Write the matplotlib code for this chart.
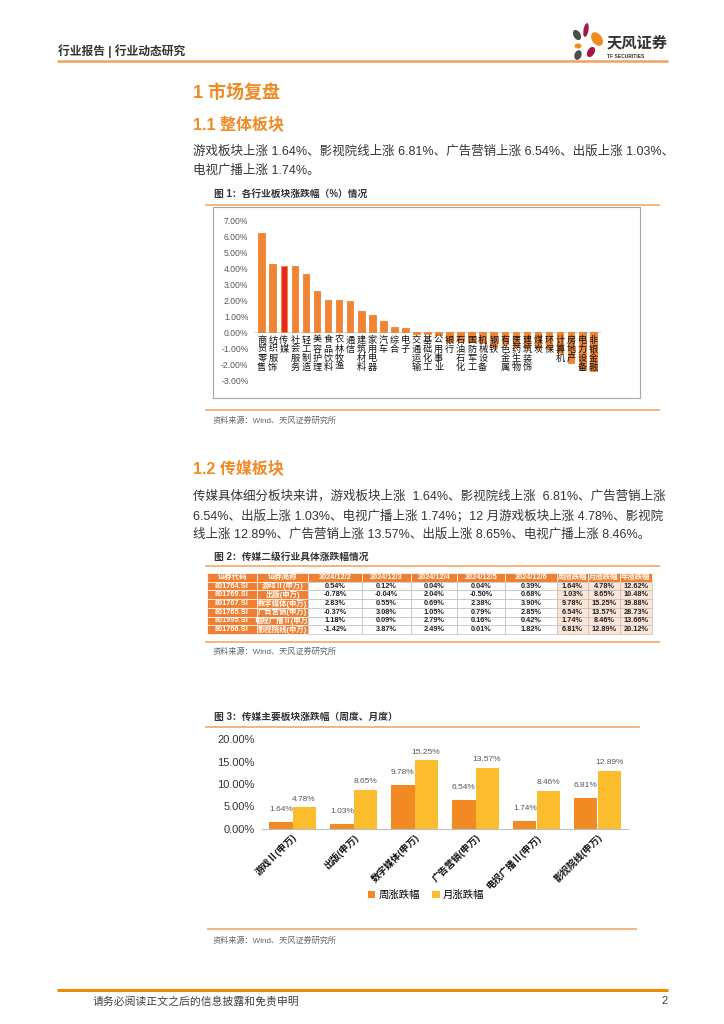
import numpy as np
import matplotlib
matplotlib.use('Agg')
import matplotlib.pyplot as plt
from matplotlib.patches import Rectangle, Ellipse

plt.rcParams['font.family'] = ['Liberation Sans', 'Noto Sans CJK SC']

# ---- chart 1 data: industry changes (%)
industries = ['商贸零售', '纺织服饰', '传媒', '社会服务', '轻工制造', '美容护理', '食品饮料',
              '农林牧渔', '通信', '建筑材料', '家用电器', '汽车', '综合', '电子', '交通运输',
              '基础化工', '公用事业', '银行', '石油石化', '国防军工', '机械设备', '钢铁',
              '有色金属', '医药生物', '建筑装饰', '煤炭', '环保', '计算机', '房地产',
              '电力设备', '非银金融']
ind_change = [6.16, 4.28, 4.11, 4.11, 3.65, 2.56, 2.03, 1.99, 1.93, 1.30, 1.09, 0.67, 0.34,
              0.23, -0.10, -0.11, -0.17, -0.62, -0.58, -0.63, -0.66, -0.92, -0.78, -0.95,
              -0.98, -1.00, -1.02, -1.30, -1.92, -2.40, -2.42]
y1_ticks = [-3, -2, -1, 0, 1, 2, 3, 4, 5, 6, 7]

# ---- table data
tbl_header = ['证券代码', '证券简称', '2024/12/2', '2024/12/3', '2024/12/4', '2024/12/5',
              '2024/12/6', '周涨跌幅', '月涨跌幅', '年涨跌幅']
codes = ['801764.SI', '801769.SI', '801767.SI', '801765.SI', '801995.SI', '801766.SI']
short_names = ['游戏Ⅱ(申万)', '出版(申万)', '数字媒体(申万)', '广告营销(申万)',
               '电视广播Ⅱ(申万)', '影视院线(申万)']
d_1202 = [0.54, -0.78, 2.83, -0.37, 1.18, -1.42]
d_1203 = [0.12, -0.04, 0.55, 3.08, 0.09, 3.87]
d_1204 = [0.04, 2.04, 0.69, 1.05, 2.79, 2.49]
d_1205 = [0.04, -0.50, 2.38, 0.79, 0.16, 0.01]
d_1206 = [0.39, 0.68, 3.90, 2.85, 0.42, 1.82]
week_chg = [1.64, 1.03, 9.78, 6.54, 1.74, 6.81]
month_chg = [4.78, 8.65, 15.25, 13.57, 8.46, 12.89]
year_chg = [12.62, 10.48, 19.88, 28.73, 13.66, 20.12]

# ---- chart 3 data
sectors = short_names
y3_ticks = [0, 5, 10, 15, 20]

W, H = 724, 1024
ORANGE = '#EF8434'
RED = '#E8281E'
YELLOW = '#FBBD2E'
HEAD = '#F08A24'
LINE = '#F3A868'
TXT = '#333333'


def box(l, t, r, b):
    return [l / W, 1 - b / H, (r - l) / W, (b - t) / H]


fig = plt.figure(figsize=(7.24, 10.24), dpi=100)
bg = fig.add_axes([0, 0, 1, 1])
bg.set_xlim(0, W)
bg.set_ylim(H, 0)
bg.axis('off')


def hline(y, x0, x1, color=LINE, lw=1.2):
    bg.plot([x0, x1], [y, y], color=color, lw=lw, solid_capstyle='butt')


# header
bg.text(58, 51, '行业报告 | 行业动态研究', fontsize=8.5, color=TXT, va='center', fontweight='bold')
hline(61, 57, 668, '#F2A05A', 1.8)
# logo
for (cx, cy, w, h, a, c) in [(577, 35, 7, 11, -30, '#4D4D4D'), (586, 30, 5, 14, 10, '#A6193C'),
                              (597, 39, 10, 15, -35, '#F08C1E'), (578, 46, 7, 5, 0, '#F08C1E'),
                              (591, 52, 7, 11, 30, '#A6193C'), (578, 55, 7, 10, 20, '#4D4D4D')]:
    bg.add_patch(Ellipse((cx, cy), w, h, angle=a, color=c, lw=0))
bg.text(607, 43, '天风证券', fontsize=11, color='#333333', va='center', fontweight='bold')
bg.text(607, 56, 'TF SECURITIES', fontsize=3.6, color='#333333', va='center', fontweight='bold')

# section 1
bg.text(193, 93, '1 市场复盘', fontsize=13, color=HEAD, va='center', fontweight='bold')
bg.text(193, 124, '1.1 整体板块', fontsize=11.5, color=HEAD, va='center', fontweight='bold')
bg.text(193, 152, '游戏板块上涨 1.64%、影视院线上涨 6.81%、广告营销上涨 6.54%、出版上涨 1.03%、',
        fontsize=9, color=TXT, va='center')
bg.text(193, 171, '电视广播上涨 1.74%。', fontsize=9, color=TXT, va='center')
bg.text(214, 194, '图 1：各行业板块涨跌幅（%）情况', fontsize=7, color=TXT, va='center', fontweight='bold')
hline(205, 205, 660)
bg.add_patch(Rectangle((213, 207), 427, 191, fill=False, edgecolor='#A6A6A6', lw=0.8))
hline(410, 205, 660)
bg.text(213, 421, '资料来源：Wind、天风证券研究所', fontsize=5.9, color='#666666', va='center')

# section 1.2
bg.text(193, 468, '1.2 传媒板块', fontsize=11.5, color=HEAD, va='center', fontweight='bold')
bg.text(193, 496, '传媒具体细分板块来讲，游戏板块上涨  1.64%、影视院线上涨  6.81%、广告营销上涨',
        fontsize=9, color=TXT, va='center')
bg.text(193, 516, '6.54%、出版上涨 1.03%、电视广播上涨 1.74%；12 月游戏板块上涨 4.78%、影视院',
        fontsize=9, color=TXT, va='center')
bg.text(193, 535, '线上涨 12.89%、广告营销上涨 13.57%、出版上涨 8.65%、电视广播上涨 8.46%。',
        fontsize=9, color=TXT, va='center')
bg.text(214, 557, '图 2：传媒二级行业具体涨跌幅情况', fontsize=7, color=TXT, va='center', fontweight='bold')
hline(566, 205, 660)
hline(642, 205, 660)
bg.text(213, 652, '资料来源：Wind、天风证券研究所', fontsize=5.9, color='#666666', va='center')

bg.text(214, 717, '图 3：传媒主要板块涨跌幅（周度、月度）', fontsize=7, color=TXT, va='center', fontweight='bold')
hline(727, 205, 640)
hline(929, 207, 637)
bg.text(213, 941, '资料来源：Wind、天风证券研究所', fontsize=5.9, color='#666666', va='center')

# footer
hline(990, 57, 668, '#F08A00', 2.2)
bg.text(93, 1001, '请务必阅读正文之后的信息披露和免责申明', fontsize=7.8, color='#404040', va='center')
bg.text(668, 1001, '2', fontsize=8, color='#404040', va='center', ha='right')

# ---- chart 1
ax1 = fig.add_axes(box(254, 220, 601, 380))
ax1.patch.set_alpha(0)
x1 = np.arange(len(industries))
cols = [RED if n == '传媒' else ORANGE for n in industries]
ax1.bar(x1, ind_change, width=0.6, color=cols, edgecolor=ORANGE, linewidth=0.6, zorder=2)
ax1.axhline(0, color='#D9D9D9', lw=0.8, zorder=1)
for i, n in enumerate(industries):
    ax1.text(i, -0.22, '\n'.join(n), ha='center', va='top', fontsize=6.6, linespacing=1.0,
             color='#111111', zorder=3)
ax1.set_xlim(-0.7, len(industries) - 0.3)
ax1.set_ylim(-3, 7)
ax1.set_yticks(y1_ticks)
ax1.set_yticklabels([f'{v:.2f}%' for v in y1_ticks], fontsize=6.2, color='#595959')
ax1.set_xticks([])
ax1.tick_params(length=0, pad=4)
for s in ax1.spines.values():
    s.set_visible(False)

# ---- table
axt = fig.add_axes(box(207, 573, 652, 634))
axt.axis('off')
rows = []
for i in range(len(codes)):
    vals = [d_1202[i], d_1203[i], d_1204[i], d_1205[i], d_1206[i], week_chg[i], month_chg[i], year_chg[i]]
    rows.append([codes[i], short_names[i]] + [f'{v:.2f}%' for v in vals])
col_px = [50, 51, 54, 49, 46, 48, 52, 31, 32, 32]
col_w = [c / sum(col_px) for c in col_px]
tbl = axt.table(cellText=rows, colLabels=tbl_header, colWidths=col_w, cellLoc='center', bbox=[0, 0, 1, 1])
tbl.auto_set_font_size(False)
tbl.set_fontsize(5.3)
for (r, c), cell in tbl.get_celld().items():
    cell.set_linewidth(0.5)
    cell.get_text().set_fontweight('bold')
    if r == 0 or c < 2:
        cell.set_facecolor('#EE7F33')
        cell.set_edgecolor('white')
        cell.get_text().set_color('white')
    elif c >= 7:
        cell.set_facecolor('#FCE4D6')
        cell.set_edgecolor('#BFBFBF')
        cell.get_text().set_color('#222222')
    else:
        cell.set_facecolor('white')
        cell.set_edgecolor('#BFBFBF')
        cell.get_text().set_color('#222222')

# ---- chart 3
ax3 = fig.add_axes(box(262, 739, 628, 829))
x3 = np.arange(len(sectors))
bw = 0.38
b1 = ax3.bar(x3 - bw / 2, week_chg, bw, color='#F28A24', label='周涨跌幅')
b2 = ax3.bar(x3 + bw / 2, month_chg, bw, color=YELLOW, label='月涨跌幅')
for bars, vals, off in [(b1, week_chg, 9), (b2, month_chg, 6)]:
    for rect, v in zip(bars, vals):
        ax3.annotate(f'{v:.2f}%', (rect.get_x() + rect.get_width() / 2, v), xytext=(0, off),
                     textcoords='offset points', ha='center', va='center', fontsize=6, color='#595959')
ax3.set_xlim(-0.5, len(sectors) - 0.5)
ax3.set_ylim(0, 20)
ax3.set_yticks(y3_ticks)
ax3.set_yticklabels([f'{v:.2f}%' for v in y3_ticks], fontsize=8, color='#333333')
ax3.set_xticks(x3 + 0.05)
ax3.set_xticklabels(sectors, rotation=45, ha='right', va='center', rotation_mode='anchor',
                    fontsize=6.8, color='#111111', fontweight='bold')
ax3.tick_params(length=0, pad=5)
for k in ['top', 'right', 'left']:
    ax3.spines[k].set_visible(False)
ax3.spines['bottom'].set_color('#BFBFBF')
ax3.spines['bottom'].set_linewidth(0.8)
ax3.legend(handles=[b1, b2], loc='center', bbox_to_anchor=(426 / W, 1 - 895 / H),
           bbox_transform=fig.transFigure, ncol=2, frameon=False, fontsize=7.5,
           handlelength=0.7, handleheight=0.7, handletextpad=0.3, columnspacing=1.2)

fig.savefig('out.png', dpi=100)
